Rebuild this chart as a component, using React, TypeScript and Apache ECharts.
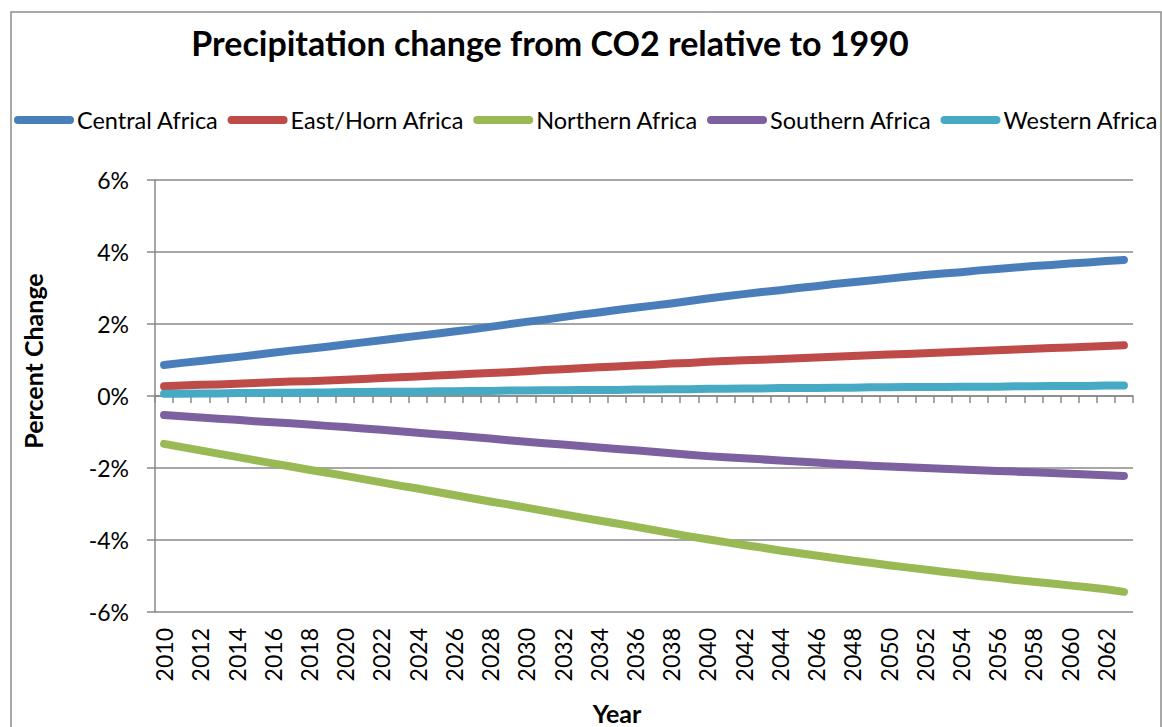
import React, { useEffect, useRef } from "react";
import * as echarts from "echarts";

const years = [
  "2010","2011","2012","2013","2014","2015","2016","2017","2018","2019",
  "2020","2021","2022","2023","2024","2025","2026","2027","2028","2029",
  "2030","2031","2032","2033","2034","2035","2036","2037","2038","2039",
  "2040","2041","2042","2043","2044","2045","2046","2047","2048","2049",
  "2050","2051","2052","2053","2054","2055","2056","2057","2058","2059",
  "2060","2061","2062","2063",
];

const centralAfrica = [
  0.86,0.92,0.97,1.03,1.08,1.14,1.20,1.26,1.31,1.37,
  1.43,1.49,1.55,1.61,1.67,1.73,1.79,1.85,1.92,1.99,
  2.06,2.12,2.19,2.26,2.32,2.39,2.45,2.51,2.57,2.64,
  2.71,2.77,2.83,2.89,2.94,3.00,3.05,3.11,3.16,3.21,
  3.26,3.31,3.36,3.40,3.44,3.49,3.53,3.57,3.61,3.64,
  3.68,3.71,3.75,3.78,
];
const eastHornAfrica = [
  0.27,0.29,0.31,0.32,0.34,0.36,0.38,0.40,0.41,0.43,
  0.45,0.47,0.50,0.52,0.54,0.57,0.59,0.62,0.64,0.66,
  0.69,0.72,0.74,0.77,0.80,0.82,0.85,0.87,0.90,0.92,
  0.95,0.97,0.99,1.01,1.03,1.05,1.07,1.09,1.11,1.13,
  1.15,1.17,1.19,1.21,1.23,1.25,1.27,1.29,1.31,1.33,
  1.35,1.37,1.39,1.41,
];
const northernAfrica = [
  -1.33,-1.42,-1.51,-1.60,-1.69,-1.78,-1.87,-1.96,-2.05,-2.13,
  -2.22,-2.31,-2.40,-2.49,-2.57,-2.66,-2.75,-2.84,-2.93,-3.01,
  -3.10,-3.19,-3.28,-3.37,-3.46,-3.54,-3.63,-3.72,-3.81,-3.90,
  -3.98,-4.06,-4.14,-4.21,-4.29,-4.36,-4.43,-4.50,-4.57,-4.63,
  -4.70,-4.76,-4.82,-4.88,-4.94,-5.00,-5.05,-5.11,-5.16,-5.21,
  -5.26,-5.31,-5.37,-5.44,
];
const southernAfrica = [
  -0.53,-0.56,-0.60,-0.63,-0.66,-0.70,-0.73,-0.76,-0.79,-0.83,
  -0.86,-0.90,-0.94,-0.98,-1.02,-1.06,-1.10,-1.14,-1.18,-1.23,
  -1.27,-1.31,-1.35,-1.39,-1.43,-1.47,-1.51,-1.55,-1.59,-1.63,
  -1.67,-1.70,-1.73,-1.76,-1.79,-1.82,-1.85,-1.88,-1.91,-1.94,
  -1.96,-1.98,-2.00,-2.02,-2.04,-2.06,-2.08,-2.10,-2.12,-2.14,
  -2.16,-2.18,-2.20,-2.22,
];
const westernAfrica = [
  0.06,0.06,0.07,0.07,0.08,0.08,0.09,0.09,0.10,0.10,
  0.11,0.11,0.12,0.12,0.12,0.13,0.13,0.14,0.14,0.15,
  0.15,0.16,0.16,0.17,0.17,0.17,0.18,0.18,0.19,0.19,
  0.20,0.20,0.21,0.21,0.22,0.22,0.22,0.23,0.23,0.24,
  0.24,0.25,0.25,0.25,0.26,0.26,0.26,0.27,0.27,0.28,
  0.28,0.28,0.29,0.29,
];

const seriesNames = [
  "Central Africa",
  "East/Horn Africa",
  "Northern Africa",
  "Southern Africa",
  "Western Africa",
];
const seriesColors = ["#4A7EBB", "#BE4B48", "#98B954", "#7D60A0", "#46AAC5"];
const seriesData = [centralAfrica, eastHornAfrica, northernAfrica, southernAfrica, westernAfrica];

const FONT = "Lato, 'Open Sans', sans-serif";

export default function App() {
  const ref = useRef<HTMLDivElement>(null);
  useEffect(() => {
    document.body.style.margin = "0";
    const chart = echarts.init(ref.current!, null, { renderer: "svg" });
    chart.setOption({
      animation: false,
      backgroundColor: "#ffffff",
      textStyle: { fontFamily: FONT },
      grid: { left: 155, right: 29, top: 180, bottom: 115, containLabel: false },
      legend: {
        left: 14,
        top: 108,
        width: 1300,
        padding: 0,
        itemWidth: 60,
        itemHeight: 8,
        itemGap: 9,
        icon: "path://M4,0 H56 A4,4 0 0 1 56,8 H4 A4,4 0 0 1 4,0 Z",
        textStyle: { fontFamily: FONT, fontSize: 23.5, color: "#000", padding: [0, 0, 0, -2] },
        data: seriesNames,
      },
      xAxis: {
        type: "category",
        data: years,
        boundaryGap: true,
        axisLine: { show: true, lineStyle: { color: "#888", width: 1.5 } },
        axisTick: { show: true, interval: 0, length: 7, lineStyle: { color: "#888", width: 1.5 } },
        axisLabel: {
          interval: 1,
          rotate: 90,
          margin: 16,
          fontSize: 23,
          color: "#000",
          fontFamily: FONT,
        },
        splitLine: { show: false },
      },
      yAxis: {
        type: "value",
        min: -6,
        max: 6,
        interval: 2,
        axisLine: { show: true, lineStyle: { color: "#888", width: 1.5 } },
        axisTick: { show: true, length: 8, lineStyle: { color: "#888", width: 1.5 } },
        axisLabel: {
          formatter: "{value}%",
          fontSize: 23,
          color: "#000",
          margin: 26,
          fontFamily: FONT,
        },
        splitLine: { show: true, lineStyle: { color: "#888", width: 1.5 } },
      },
      graphic: [
        {
          type: "rect",
          silent: true,
          shape: { x: 11, y: 12, width: 1150, height: 740 },
          style: { fill: "none", stroke: "#8c8c8c", lineWidth: 1.5 },
        },
        {
          type: "text",
          x: 550,
          y: 42,
          style: {
            text: "Precipitation change from CO2 relative to 1990",
            fontFamily: FONT,
            fontSize: 34,
            fontWeight: "bold",
            fill: "#000",
            textAlign: "center",
            textVerticalAlign: "middle",
          },
        },
        {
          type: "text",
          x: 33,
          y: 361,
          rotation: Math.PI / 2,
          style: {
            text: "Percent Change",
            fontFamily: FONT,
            fontSize: 25,
            fontWeight: "bold",
            fill: "#000",
            textAlign: "center",
            textVerticalAlign: "middle",
          },
        },
        {
          type: "text",
          x: 617,
          y: 713,
          style: {
            text: "Year",
            fontFamily: FONT,
            fontSize: 25,
            fontWeight: "bold",
            fill: "#000",
            textAlign: "center",
            textVerticalAlign: "middle",
          },
        },
      ],
      series: seriesNames.map((name, i) => ({
        name,
        type: "line",
        data: seriesData[i],
        showSymbol: false,
        symbol: "none",
        smooth: false,
        lineStyle: { color: seriesColors[i], width: 8, cap: "round", join: "round" },
        itemStyle: { color: seriesColors[i] },
      })),
    });
    return () => chart.dispose();
  }, []);
  return <div ref={ref} style={{ width: 1162, height: 727 }} />;
}
